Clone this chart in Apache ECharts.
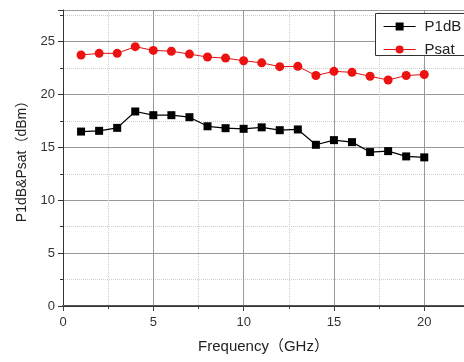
<!DOCTYPE html>
<html>
<head>
<meta charset="utf-8">
<script src="https://cdn.jsdelivr.net/npm/echarts@6/dist/echarts.min.js"></script>
<style>html,body{margin:0;padding:0;background:#fff;}#c{width:464px;height:362px;}</style>
</head>
<body>
<div id="c"></div>
<script>
const freq = [1,2,3,4,5,6,7,8,9,10,11,12,13,14,15,16,17,18,19,20];
const p1dB = [16.5,16.57,16.85,18.4,18.05,18.05,17.86,17.0,16.82,16.76,16.9,16.63,16.7,15.25,15.69,15.5,14.56,14.65,14.15,14.06];
const psat = [23.74,23.9,23.9,24.53,24.18,24.1,23.83,23.55,23.45,23.2,23.0,22.64,22.67,21.8,22.2,22.1,21.73,21.38,21.8,21.9];
const seriesNames = ['P1dB','Psat'];
const xName = 'Frequency（GHz）';
const yName = 'P1dB&Psat（dBm）';

const FONT = '"Liberation Sans", Arial, "Noto Sans CJK SC", sans-serif';
const chart = echarts.init(document.getElementById('c'));
const pairs = (ys) => freq.map((x, i) => [x, ys[i]]);
chart.setOption({
  animation: false,
  backgroundColor: '#fff',
  textStyle: { fontFamily: FONT },
  grid: { left: 63, top: 10, right: 0, bottom: 56, show: false },
  graphic: [{
    type: 'rect', left: 375, top: 13, z: 5,
    shape: { width: 100, height: 42 },
    style: { fill: '#fff', stroke: '#333', lineWidth: 1 }
  }],
  legend: {
    left: 375, top: 13, orient: 'vertical', z: 10,
    padding: [6, 8, 5, 8],
    itemWidth: 32, itemHeight: 10, itemGap: 8,
    lineStyle: { width: 1.2 },
    textStyle: { fontSize: 15, color: '#222', fontFamily: FONT, padding: [0, 0, 0, 4] },
    data: seriesNames
  },
  xAxis: [{
    type: 'value', min: 0, max: 22.2, interval: 5,
    name: xName, nameLocation: 'middle', nameGap: 33,
    nameTextStyle: { fontSize: 15, color: '#222', fontFamily: FONT },
    axisLine: { show: true, onZero: false, lineStyle: { color: '#555', width: 2 } },
    axisTick: { show: true, inside: false, length: 5, lineStyle: { color: '#444' } },
    minorTick: { show: true, splitNumber: 2, length: 3, lineStyle: { color: '#444' } },
    axisLabel: { fontSize: 13, color: '#333', margin: 10, fontFamily: FONT, showMaxLabel: false },
    splitLine: { show: true, lineStyle: { color: '#999', width: 1 } },
    minorSplitLine: { show: true, lineStyle: { color: '#ccc', type: 'dotted', width: 1 } }
  }, {
    type: 'value', position: 'top', min: 0, max: 22.2,
    axisLine: { show: true, lineStyle: { color: '#333', width: 1 } },
    axisTick: { show: false }, axisLabel: { show: false }, splitLine: { show: false }
  }],
  yAxis: {
    type: 'value', min: 0, max: 28, interval: 5,
    name: yName, nameLocation: 'middle', nameGap: 28,
    nameTextStyle: { fontSize: 14, color: '#222', fontFamily: FONT },
    axisLine: { show: true, onZero: false, lineStyle: { color: '#333', width: 1 } },
    axisTick: { show: true, inside: false, length: 5, lineStyle: { color: '#333' } },
    minorTick: { show: true, splitNumber: 2, length: 3, lineStyle: { color: '#333' } },
    axisLabel: { fontSize: 13, color: '#333', margin: 8, fontFamily: FONT, showMaxLabel: false },
    splitLine: { show: true, lineStyle: { color: '#999', width: 1 } },
    minorSplitLine: { show: true, lineStyle: { color: '#ccc', type: 'dotted', width: 1 } }
  },
  series: [
    {
      name: seriesNames[0], type: 'line', data: pairs(p1dB),
      symbol: 'rect', symbolSize: 8,
      itemStyle: { color: '#000' },
      lineStyle: { color: '#000', width: 1.2 },
      z: 3
    },
    {
      name: seriesNames[1], type: 'line', data: pairs(psat),
      symbol: 'circle', symbolSize: 9,
      itemStyle: { color: '#ee1111' },
      lineStyle: { color: '#dd1111', width: 1 },
      z: 3
    }
  ]
});
</script>
</body>
</html>
